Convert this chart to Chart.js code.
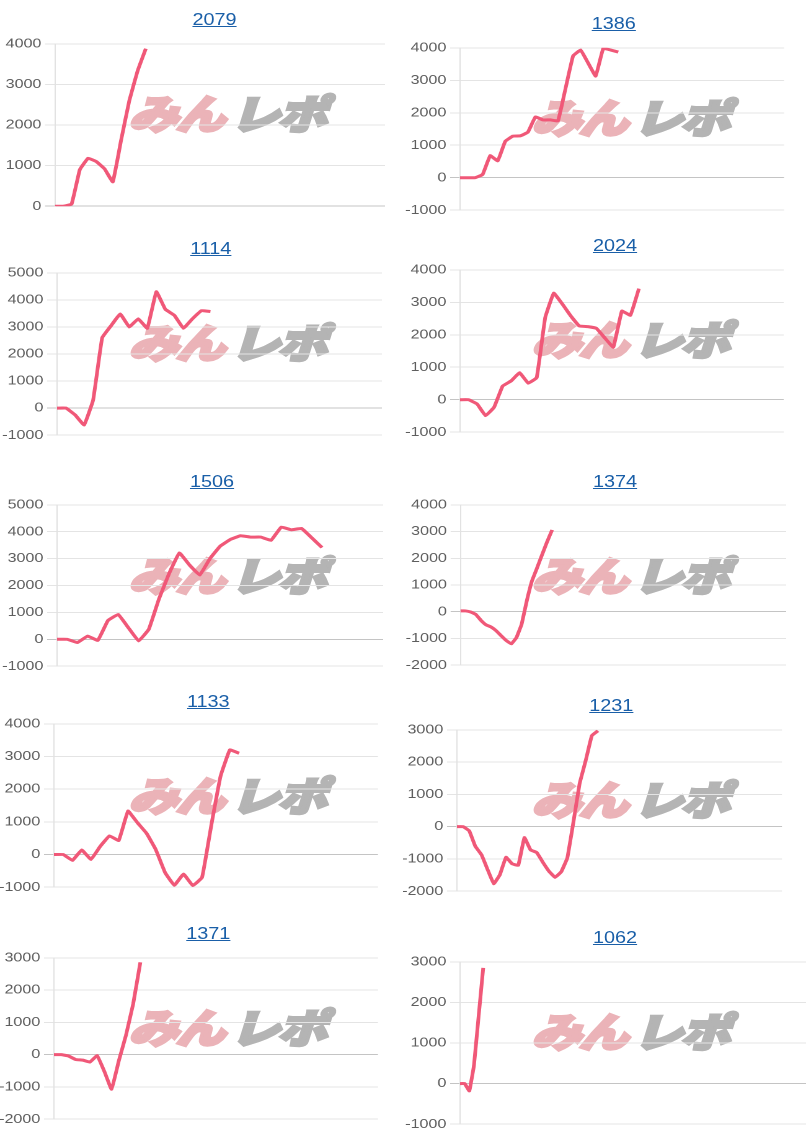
<!DOCTYPE html>
<html lang="ja">
<head>
<meta charset="utf-8">
<title>収支グラフ</title>
<script src="https://cdn.jsdelivr.net/npm/chart.js@4.4.1/dist/chart.umd.min.js"></script>
<style>
    html, body {
        margin: 0;
        padding: 0;
        background: #fff;
        overflow: hidden;
        width: 806px;
        height: 1140px;
    }
    /* page was laid out 650px wide and shown stretched to 806px */
    #page {
        position: relative;
        width: 650px;
        height: 1140px;
        transform: scale(1.24, 1);
        transform-origin: 0 0;
    }
    .title {
        position: absolute;
        width: 120px;
        text-align: center;
        font-family: Arial, "Liberation Sans", sans-serif;
        font-size: 16px;
        line-height: 18px;
        color: #1a5fa8;
        text-decoration: underline;
    }
    .mark {
        position: absolute;
        width: 170px;
        font-family: "Noto Sans CJK JP", sans-serif;
        font-weight: 900;
        font-size: 40px;
        line-height: 42px;
        letter-spacing: -2px;
        white-space: nowrap;
        transform: skewX(-14deg);
    }
    .mark .pink { color: #ebb3b8; -webkit-text-stroke: 3px #ebb3b8; }
    .mark .gray { color: #b4b4b4; -webkit-text-stroke: 3px #b4b4b4; margin-left: 6px; }
    canvas {
        position: absolute;
    }
</style>
</head>
<body>
<div id="page"></div>

<script>
// Chart Data
const titles = ['2079', '1386', '1114', '2024', '1506', '1374', '1133', '1231', '1371', '1062'];

const values2079 = [0, 0, 50, 900, 1180, 1100, 920, 600, 1620, 2600, 3330, 3880];
const values1386 = [0, 0, 0, 100, 680, 520, 1120, 1280, 1290, 1400, 1870, 1780, 1780, 1750, 2750, 3750, 3930, 3530, 3130, 3980, 3930, 3870];
const values1114 = [0, 0, -250, -620, 300, 2600, 3050, 3480, 3000, 3300, 2950, 4300, 3650, 3430, 2950, 3300, 3600, 3570];
const values2024 = [0, 0, -130, -490, -230, 420, 580, 830, 510, 680, 2530, 3280, 2950, 2580, 2270, 2250, 2200, 1900, 1620, 2730, 2600, 3420];
const values1506 = [0, 0, -120, 120, -40, 700, 920, 430, -60, 370, 1500, 2450, 3210, 2760, 2390, 3000, 3460, 3710, 3850, 3800, 3800, 3680, 4170, 4070, 4120, 3770, 3410];
const values1374 = [30, 30, -10, -100, -320, -490, -570, -710, -900, -1080, -1200, -960, -470, 390, 1130, 1620, 2120, 2610, 3060];
const values1133 = [0, 0, -180, 140, -150, 250, 570, 430, 1330, 980, 650, 150, -550, -940, -600, -950, -700, 900, 2400, 3200, 3100];
const values1231 = [0, 0, -130, -610, -870, -1330, -1770, -1490, -950, -1150, -1200, -340, -720, -800, -1100, -1380, -1570, -1400, -970, 150, 1330, 2050, 2820, 2970];
const values1371 = [0, 0, -40, -150, -170, -230, -30, -520, -1070, -200, 600, 1570, 2860];
const values1062 = [0, 0, -180, 450, 1650, 2850];

const seriesList = [values2079, values1386, values1114, values2024, values1506,
                    values1374, values1133, values1231, values1371, values1062];

// number of x slots on each chart (x labels are hidden)
const xSlots = [41, 44, 37, 39, 33, 65, 36, 54, 46, 85];

// y axis ranges
const yMins = [0, -1000, -1000, -1000, -1000, -2000, -1000, -2000, -2000, -1000];
const yMaxs = [4000, 4000, 5000, 4000, 5000, 4000, 4000, 3000, 3000, 3000];
const yStep = 1000;

// Layout (unstretched px): column x, plot left/right inside column, plot top/bottom, title centre
const layout = [
    { col: 0,   left: 44.4, right: 310.5, top: 43,    bottom: 207,   tx: 173, ty: 20.3 },
    { col: 325, left: 46,   right: 307.3, top: 46.7,  bottom: 211,   tx: 170, ty: 23.7 },
    { col: 0,   left: 46,   right: 308,   top: 272.3, bottom: 436,   tx: 170, ty: 249.3 },
    { col: 325, left: 46,   right: 307,   top: 269,   bottom: 432.7, tx: 171, ty: 246.3 },
    { col: 0,   left: 46,   right: 309,   top: 504,   bottom: 667.3, tx: 171, ty: 481.7 },
    { col: 325, left: 46.4, right: 309,   top: 504,   bottom: 666,   tx: 171, ty: 481.7 },
    { col: 0,   left: 43.5, right: 304.8, top: 723.3, bottom: 888.3, tx: 168, ty: 701.7 },
    { col: 325, left: 43.5, right: 305.6, top: 729,   bottom: 891.7, tx: 168, ty: 705.7 },
    { col: 0,   left: 43.5, right: 304.8, top: 956.7, bottom: 1120,  tx: 168, ty: 934 },
    { col: 325, left: 46,   right: 360,   top: 960.7, bottom: 1124.3, tx: 171, ty: 938 }
];

const PAD = 10;
const LINE_COLOR = '#f05878';
const page = document.getElementById('page');

// Build one panel: title, watermark, chart
function buildPanel(i) {
    const L = layout[i];

    const title = document.createElement('div');
    title.className = 'title';
    title.textContent = titles[i];
    title.style.left = (L.col + L.tx - 60) + 'px';
    title.style.top = (L.ty - 9) + 'px';
    page.appendChild(title);

    const mark = document.createElement('div');
    mark.className = 'mark';
    mark.innerHTML = '<span class="pink">みん</span><span class="gray">レポ</span>';
    mark.style.left = (L.col + 188 - 80) + 'px';
    mark.style.top = (L.ty + 94 - 23) + 'px';
    page.appendChild(mark);

    const width = Math.max(325, L.right);
    const height = Math.round(L.bottom - L.top) + PAD * 2;
    const canvas = document.createElement('canvas');
    canvas.width = width;
    canvas.height = height;
    canvas.style.left = L.col + 'px';
    canvas.style.top = (L.top - PAD) + 'px';
    page.appendChild(canvas);

    const labels = Array.from({ length: xSlots[i] }, (_, k) => String(k + 1));

    new Chart(canvas, {
        type: 'line',
        data: {
            labels: labels,
            datasets: [{
                data: seriesList[i],
                borderColor: LINE_COLOR,
                borderWidth: 3,
                pointRadius: 0,
                tension: 0.08,
                fill: false
            }]
        },
        options: {
            responsive: false,
            animation: false,
            devicePixelRatio: 2,
            layout: {
                padding: { top: PAD, bottom: PAD, left: 0, right: width - L.right }
            },
            plugins: {
                legend: { display: false },
                tooltip: { enabled: false }
            },
            scales: {
                x: { display: false },
                y: {
                    min: yMins[i],
                    max: yMaxs[i],
                    afterFit: scale => { scale.width = L.left; },
                    ticks: {
                        stepSize: yStep,
                        color: '#5e5e5e',
                        padding: 3,
                        font: { family: 'Arial', size: 13 },
                        callback: value => String(value)
                    },
                    grid: {
                        color: ctx => ctx.tick && ctx.tick.value === 0 ? '#c4c4c4' : '#e4e4e4',
                        tickLength: 8
                    },
                    border: { color: '#e2e2e2' }
                }
            }
        }
    });
}

titles.forEach((_, i) => buildPanel(i));
</script>
</body>
</html>
